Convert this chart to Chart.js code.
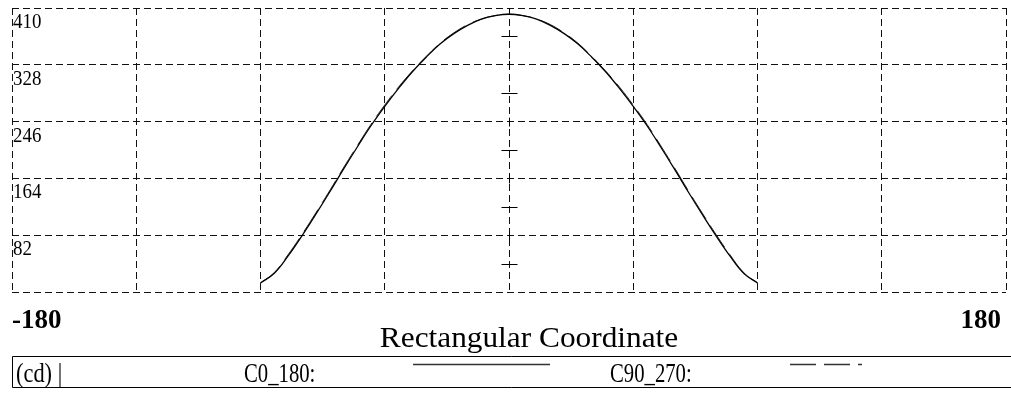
<!DOCTYPE html>
<html>
<head>
<meta charset="utf-8">
<script src="https://cdn.jsdelivr.net/npm/chart.js@4"></script>
<style>
    body { margin: 0; background: #ffffff; }
    #wrap { width: 1011px; height: 402px; }
</style>
</head>
<body>
<div id="wrap"><canvas id="chart"></canvas></div>
<script>
// Values (angle in degrees, intensity in cd)
var angles = [-90, -85, -80, -75, -70, -65, -60, -55, -50, -45, -40, -35, -30, -25, -20, -15, -10, -5, 0,
              5, 10, 15, 20, 25, 30, 35, 40, 45, 50, 55, 60, 65, 70, 75, 80, 85, 90];
var c0_180 = [13, 27, 52, 81, 112, 144, 177, 209, 240, 268, 294, 318, 339, 358, 373, 385, 394, 399, 401,
              399, 394, 385, 373, 358, 339, 318, 294, 268, 240, 209, 177, 144, 112, 81, 52, 27, 13];
var c90_270 = [13, 28, 54, 83, 114, 146, 179, 211, 242, 270, 296, 319, 340, 359, 374, 386, 394, 399, 401,
               399, 394, 386, 374, 359, 340, 319, 296, 270, 242, 211, 179, 146, 114, 83, 54, 28, 13];
var yTicks = [82, 164, 246, 328, 410];
var gridY = [82, 164, 246, 328, 410];
var xEnds = [-180, 180];
var centerTicks = [41, 123, 205, 287, 369];
var axisTitle = "Rectangular Coordinate";
var unitLabel = "(cd) |";
var seriesNames = ["C0_180:", "C90_270:"];

var serif = "'Liberation Serif', 'DejaVu Serif', serif";

function toPoints(values) {
    var pts = [];
    for (var i = 0; i < angles.length; i++) {
        pts.push({ x: angles[i], y: values[i] });
    }
    return pts;
}

// text squeezed or stretched sideways like the original
function squeezedText(ctx, text, x, y, sx) {
    ctx.save();
    ctx.translate(x, y);
    ctx.scale(sx, 1);
    ctx.fillText(text, 0, 0);
    ctx.restore();
}

// texts, center marks and legend box
var decorations = {
    id: 'decorations',
    afterDraw: function (chart) {
        var ctx = chart.ctx;
        var xs = chart.scales.x;
        var ys = chart.scales.y;
        var area = chart.chartArea;
        ctx.save();
        ctx.fillStyle = '#000';
        ctx.strokeStyle = '#000';

        // y labels just under each grid line
        ctx.font = "21px " + serif;
        ctx.textAlign = 'left';
        ctx.textBaseline = 'alphabetic';
        for (var i = 0; i < yTicks.length; i++) {
            squeezedText(ctx, String(yTicks[i]), area.left + 1, ys.getPixelForValue(yTicks[i]) + 20, 0.9);
        }

        // small marks on the center line
        var cx = Math.round(xs.getPixelForValue(0)) + 0.5;
        ctx.lineWidth = 1;
        ctx.beginPath();
        for (var j = 0; j < centerTicks.length; j++) {
            var py = Math.round(ys.getPixelForValue(centerTicks[j])) + 0.5;
            ctx.moveTo(cx - 8, py);
            ctx.lineTo(cx + 8, py);
        }
        for (var k = 0; k < gridY.length; k++) {
            var gy = ys.getPixelForValue(gridY[k]);
            ctx.moveTo(cx, Math.max(area.top, gy - 4));
            ctx.lineTo(cx, gy + 5);
        }
        ctx.stroke();

        // x end labels
        ctx.font = "bold 27px " + serif;
        ctx.textAlign = 'left';
        ctx.fillText(String(xEnds[0]), xs.getPixelForValue(xEnds[0]), 328);
        ctx.textAlign = 'right';
        ctx.fillText(String(xEnds[1]), xs.getPixelForValue(xEnds[1]) - 5, 328);

        // axis title
        ctx.font = "29px " + serif;
        ctx.textAlign = 'center';
        squeezedText(ctx, axisTitle, (area.left + area.right) / 2 + 20, 347, 1.08);

        // legend box
        ctx.lineWidth = 1;
        ctx.beginPath();
        ctx.moveTo(chart.width, 356.5);
        ctx.lineTo(12.5, 356.5);
        ctx.lineTo(12.5, 387.5);
        ctx.lineTo(chart.width, 387.5);
        ctx.stroke();

        ctx.font = "28px " + serif;
        ctx.textAlign = 'left';
        squeezedText(ctx, unitLabel, 16, 382, 0.8);
        squeezedText(ctx, seriesNames[0], 244, 382, 0.74);
        squeezedText(ctx, seriesNames[1], 610, 382, 0.74);

        ctx.strokeStyle = '#333';
        ctx.lineWidth = 1.3;
        ctx.beginPath();
        ctx.moveTo(413, 364.5);
        ctx.lineTo(550, 364.5);
        ctx.stroke();
        ctx.setLineDash([26, 8]);
        ctx.beginPath();
        ctx.moveTo(790, 364.5);
        ctx.lineTo(862, 364.5);
        ctx.stroke();

        ctx.restore();
    }
};

new Chart(document.getElementById('chart'), {
    type: 'line',
    data: {
        datasets: [{
            label: seriesNames[0],
            data: toPoints(c0_180),
            borderColor: '#000',
            borderWidth: 1.3,
            pointRadius: 0,
            tension: 0.4,
            fill: false
        }, {
            label: seriesNames[1],
            data: toPoints(c90_270),
            borderColor: '#333',
            borderWidth: 1,
            borderDash: [26, 8],
            pointRadius: 0,
            tension: 0.4,
            fill: false
        }]
    },
    options: {
        responsive: true,
        maintainAspectRatio: false,
        animation: false,
        layout: { padding: { left: 12, right: 5, top: 8, bottom: 110 } },
        plugins: {
            legend: { display: false },
            tooltip: { enabled: false }
        },
        scales: {
            x: {
                type: 'linear',
                min: -180,
                max: 180,
                ticks: { display: false, stepSize: 45 },
                grid: { color: '#111', lineWidth: 1, drawTicks: false },
                border: { display: false, dash: [7, 4] }
            },
            y: {
                min: 0,
                max: 410,
                ticks: { display: false, stepSize: 82 },
                grid: { color: '#111', lineWidth: 1, drawTicks: false },
                border: { display: false, dash: [7, 4] }
            }
        }
    },
    plugins: [decorations]
});
</script>
</body>
</html>
